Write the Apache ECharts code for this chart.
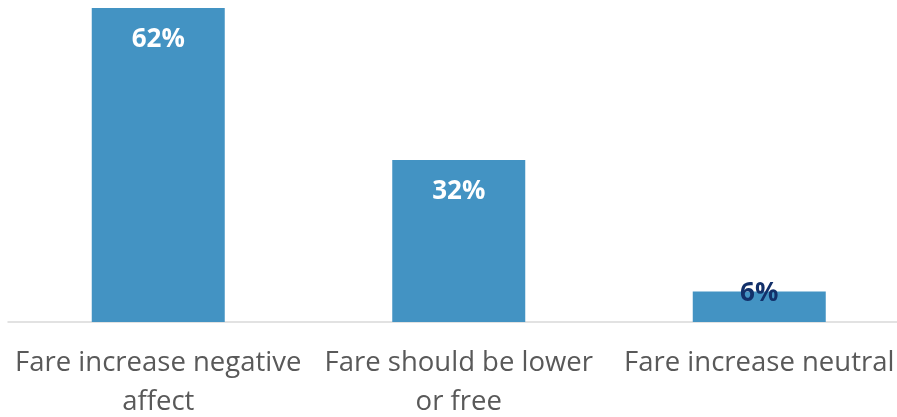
<!DOCTYPE html>
<html><head><meta charset="utf-8">
<script src="https://cdn.jsdelivr.net/npm/echarts@6/dist/echarts.min.js"></script>
<style>html,body{margin:0;padding:0;background:#fff}#c{width:897px;height:417px}</style>
</head><body><div id="c"></div>
<script>
const categories = ['Fare increase negative\naffect', 'Fare should be lower\nor free', 'Fare increase neutral'];
const values = [62, 32, 6];
const valueLabels = ['62%', '32%', '6%'];

const chart = echarts.init(document.getElementById('c'), null, {renderer: 'canvas'});
const data = values.map((v, i) => {
  const small = v < 10;
  return {
    value: v,
    label: small ? {position: 'top', distance: -15, color: '#12306A'} : {position: 'insideTop', distance: 19, color: '#ffffff'}
  };
});
chart.setOption({
  animation: false,
  grid: {left: 8, top: 8, bottom: 95, width: 901.5, containLabel: false, outerBoundsMode: 'none'},
  xAxis: {
    type: 'category', data: categories,
    axisLine: {lineStyle: {color: '#D9D9D9', width: 1.5}},
    axisTick: {show: false},
    axisLabel: {interval: 0, fontFamily: 'Open Sans', fontSize: 27.5, color: '#595959', lineHeight: 39, margin: 22}
  },
  yAxis: {type: 'value', min: 0, max: 62, show: false, splitLine: {show: false}},
  series: [{
    type: 'bar', data: data, barWidth: 133,
    itemStyle: {color: '#4393C3'},
    label: {show: true, fontFamily: 'Open Sans', fontWeight: 'bold', fontSize: 26, lineHeight: 26,
      formatter: p => valueLabels[p.dataIndex]}
  }]
});
</script></body></html>
